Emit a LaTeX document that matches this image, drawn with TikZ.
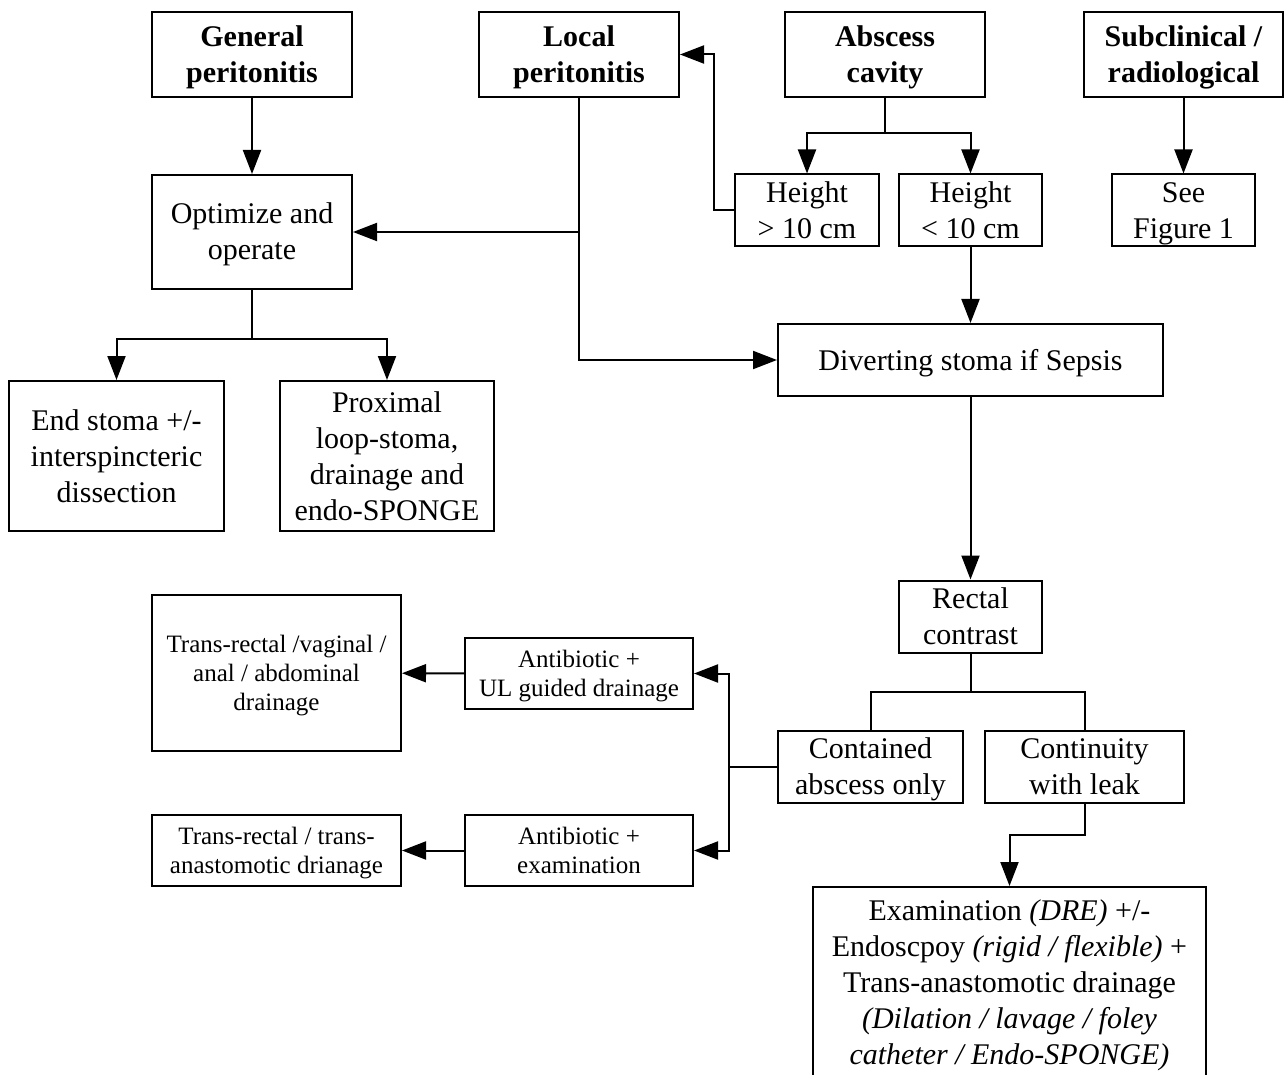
\documentclass[tikz,border=0pt]{standalone}
\usepackage{fontspec}
\setmainfont{Liberation Serif}
\usetikzlibrary{arrows.meta}
\newcommand\strutL{\rule[-8pt]{0pt}{36pt}}
\newcommand\strutS{\rule[-6.25pt]{0pt}{29pt}}
\begin{document}
\begin{tikzpicture}[x=1pt,y=-1pt,
  box/.style={draw, line width=2pt, align=center, inner sep=0pt, font=\fontsize{30}{36}\selectfont},
  bbox/.style={box, font=\fontsize{30}{36}\selectfont\bfseries},
  sbox/.style={box, font=\fontsize{25}{29}\selectfont},
  conn/.style={line width=2pt},
  arr/.style={conn, -{Triangle[length=24pt,width=18pt]}},
]
\clip (0,0) rectangle (1285,1075);
\fill[white] (0,0) rectangle (1285,1075);

\node[bbox, minimum width=200pt, minimum height=85pt] (gen) at (252,54.5) {\strutL General\\peritonitis\strutL};
\node[bbox, minimum width=200pt, minimum height=85pt] (loc) at (579,54.5) {\strutL Local\\peritonitis\strutL};
\node[bbox, minimum width=200pt, minimum height=85pt] (abs) at (885,54.5) {\strutL Abscess\\cavity\strutL};
\node[bbox, minimum width=199pt, minimum height=85pt] (sub) at (1183.5,54.5) {\strutL Subclinical /\\radiological\strutL};
\node[box, minimum width=200pt, minimum height=114pt] (opt) at (252,232) {\strutL Optimize and\\operate\strutL};
\node[box, minimum width=144pt, minimum height=71pt] (hgt) at (807,210.5) {\strutL Height\\> 10 cm\strutL};
\node[box, minimum width=143pt, minimum height=71pt] (hlt) at (970.5,210.5) {\strutL Height\\< 10 cm\strutL};
\node[box, minimum width=143pt, minimum height=71pt] (see) at (1183.5,210.5) {\strutL See\\Figure 1\strutL};
\node[box, minimum width=385pt, minimum height=72pt] (div) at (970.5,360) {\strutL Diverting stoma if Sepsis};
\node[box, minimum width=215pt, minimum height=150pt] (end) at (116.5,456) {\strutL End stoma +/-\\interspincteric\\dissection\strutL};
\node[box, minimum width=214pt, minimum height=150pt] (prox) at (387,456) {\strutL Proximal\\loop-stoma,\\drainage and\\endo-SPONGE\strutL};
\node[box, minimum width=143pt, minimum height=71pt] (rect) at (970.5,616.5) {\strutL Rectal\\contrast\strutL};
\node[sbox, minimum width=249pt, minimum height=156pt] (trv) at (276.5,673) {\strutS Trans-rectal /vaginal /\\anal / abdominal\\drainage\strutS};
\node[sbox, minimum width=228pt, minimum height=71pt] (abul) at (579,673.5) {\strutS Antibiotic +\\UL guided drainage\strutS};
\node[box, minimum width=185pt, minimum height=71pt] (cont) at (870.5,766.5) {\strutL Contained\\abscess only\strutL};
\node[box, minimum width=199pt, minimum height=71pt] (leak) at (1084.5,766.5) {\strutL Continuity\\with leak\strutL};
\node[sbox, minimum width=249pt, minimum height=71pt] (tra) at (276.5,850.5) {\strutS Trans-rectal / trans-\\anastomotic drianage\strutS};
\node[sbox, minimum width=228pt, minimum height=71pt] (abex) at (579,850.5) {\strutS Antibiotic +\\examination\strutS};
\node[draw, line width=2pt, inner sep=0pt, minimum width=393pt, minimum height=215pt, anchor=north] (exam) at (1009.5,886) {};
\node[anchor=north, align=center, inner sep=0pt, font=\fontsize{30}{36}\selectfont] (examtxt) at (1009.5,892)
  {\strutL Examination \textit{(DRE)} +/-\\Endoscpoy \textit{(rigid / flexible)} +\\Trans-anastomotic drainage\\\textit{(Dilation / lavage / foley}\\\textit{catheter / Endo-SPONGE)}\strutL};

\draw[arr] (gen) -- (opt);
\draw[arr] (loc.south) |- (div.west);
\draw[arr] (loc.south |- opt.east) -- (opt.east);
\coordinate (hk) at (714,210.5);
\draw[arr] (hgt.west) -- (hk) |- (loc.east);
\draw[conn] (abs.south) -- ++(0,35) coordinate (absj);
\draw[arr] (absj) -| (hgt.north);
\draw[arr] (absj) -| (hlt.north);
\draw[arr] (sub) -- (see);
\draw[arr] (hlt) -- (div);
\draw[conn] (opt.south) -- ++(0,49) coordinate (optj);
\draw[arr] (optj) -| (end.north);
\draw[arr] (optj) -| (prox.north);
\draw[arr] (div) -- (rect);
\draw[conn] (rect.south) -- ++(0,38) coordinate (rj);
\draw[conn] (rj) -| (cont.north);
\draw[conn] (rj) -| (leak.north);
\coordinate (cj) at (729,766.5);
\draw[conn] (cont.west) -- (cj);
\draw[arr] (cj) |- (abul.east);
\draw[arr] (cj) |- (abex.east);
\draw[arr] (abul) -- (trv);
\draw[arr] (abex) -- (tra);
\coordinate (lj) at (1009.5,835);
\draw[arr] (leak.south) |- (lj) -- (exam.north);
\end{tikzpicture}
\end{document}
